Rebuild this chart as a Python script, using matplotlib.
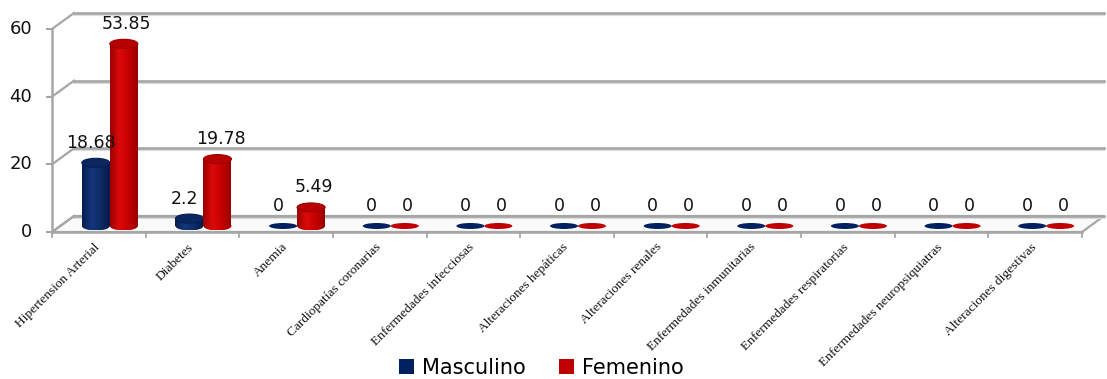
import matplotlib
matplotlib.use("Agg")
import matplotlib.pyplot as plt
import matplotlib.transforms as mtransforms
from matplotlib.patches import Ellipse, Polygon, Rectangle
from matplotlib.colors import LinearSegmentedColormap
import numpy as np

categorias = ["Hipertension Arterial", "Diabetes", "Anemia", "Cardiopatías coronarias",
              "Enfermedades infecciosas", "Alteraciones hepáticas", "Alteraciones renales",
              "Enfermedades inmunitarias", "Enfermedades respiratorias",
              "Enfermedades neuropsiquiatras", "Alteraciones digestivas"]
masculino = [18.68, 2.2, 0, 0, 0, 0, 0, 0, 0, 0, 0]
femenino = [53.85, 19.78, 5.49, 0, 0, 0, 0, 0, 0, 0, 0]
series = ["Masculino", "Femenino"]
yticks = [0, 20, 40, 60]

# cylinder shading: dark edge -> highlight -> dark edge
grad_azul = LinearSegmentedColormap.from_list("azul", ["#071d4f", "#14367a", "#0f2c68", "#061a48"])
grad_rojo = LinearSegmentedColormap.from_list("rojo", ["#9c0000", "#dc0a0a", "#c60000", "#980000"])
tapa = {"azul": "#0b2661", "rojo": "#b80000"}
col_azul = "#002060"
col_rojo = "#c00000"

W, H = 1107, 379
fig = plt.figure(figsize=(W / 100, H / 100), dpi=100)
ax = fig.add_axes([52 / W, 147 / H, 1030 / W, 203 / H])
ax.set_xlim(-0.5, len(categorias) - 0.5)
ax.set_ylim(0, 60)
ax.axis("off")
pix = mtransforms.IdentityTransform()

# depth offsets (pixels) for the back wall and for the bar row
fondo = mtransforms.offset_copy(ax.transData, fig=fig, x=22, y=16, units="dots")
fila = mtransforms.offset_copy(ax.transData, fig=fig, x=11, y=6, units="dots")
sombra = mtransforms.offset_copy(ax.transData, fig=fig, x=22, y=14, units="dots")
etiquetas = [mtransforms.offset_copy(fila, fig=fig, x=-5, y=20, units="dots"),
             mtransforms.offset_copy(fila, fig=fig, x=3, y=20, units="dots")]

x0, x1 = -0.5, len(categorias) - 0.5
gris = "#a6a6a6"

# floor
pts_back = fondo.transform([(x0, 0), (x1, 0)])
pts_front = ax.transData.transform([(x0, 0), (x1, 0)])
ax.add_patch(Polygon(np.vstack([pts_front, pts_back[::-1]]), closed=True, transform=pix,
                     facecolor="#fafafa", edgecolor=gris, lw=1.6, zorder=1, clip_on=False))

# back wall gridlines and left wall diagonals
for yv in yticks:
    ax.plot([x0, x1], [yv, yv], transform=sombra, color="#dcdcdc", lw=1.6, clip_on=False, zorder=1)
    ax.plot([x0, x1], [yv, yv], transform=fondo, color=gris, lw=1.9, clip_on=False, zorder=1.1)
    a = ax.transData.transform((x0, yv))
    b = fondo.transform((x0, yv))
    ax.plot([a[0], b[0]], [a[1], b[1]], transform=pix, color=gris, lw=1.6, clip_on=False, zorder=1.1)

# front axes lines
ax.plot([x0, x0], [0, 60], color=gris, lw=1.8, clip_on=False, zorder=2)
ax.plot([x0, x1], [0, 0], color=gris, lw=1.8, clip_on=False, zorder=2)
px_per_unit = (ax.transData.transform((0, 20))[1] - ax.transData.transform((0, 0))[1]) / 20
px_per_cat = ax.transData.transform((1, 0))[0] - ax.transData.transform((0, 0))[0]
for yv in yticks:
    ax.plot([x0 - 5 / px_per_cat, x0], [yv, yv], color=gris, lw=1.5, clip_on=False, zorder=2)
    ax.text(x0 - 20 / px_per_cat, yv, str(yv), ha="right", va="center", fontsize=13,
            color="#111111", family="DejaVu Sans")
for k in range(len(categorias) + 1):
    ax.plot([x0 + k, x0 + k], [0, -5 / px_per_unit], color=gris, lw=1.3, clip_on=False, zorder=2)

# category labels
for i, nombre in enumerate(categorias):
    ax.text(i - 5 / px_per_cat, -9 / px_per_unit, nombre, rotation=45, rotation_mode="anchor",
            ha="right", va="top", fontsize=9.6, family="Liberation Serif", color="#111111")

# cylinders
ancho = 28 / px_per_cat
elip_h = 9 / px_per_unit
disco_h = 6 / px_per_unit
grad = np.linspace(0, 1, 64).reshape(1, -1)
for i in range(len(categorias)):
    for j, (vals, cmap, clave) in enumerate([(masculino, grad_azul, "azul"), (femenino, grad_rojo, "rojo")]):
        v = vals[i]
        xc = i + (j - 0.5) * ancho
        zo = 3 + i * 0.1 + j * 0.01
        if v == 0:
            ax.add_patch(Ellipse((xc, 0), ancho, disco_h, transform=fila,
                                 facecolor=col_azul if j == 0 else col_rojo, edgecolor="none",
                                 zorder=zo, clip_on=False))
        else:
            # body silhouette: bottom ellipse + rectangle
            base = Ellipse((xc, 0), ancho, elip_h, transform=fila, facecolor="none",
                           edgecolor="none", clip_on=False)
            cuerpo = Rectangle((xc - ancho / 2, 0), ancho, v, transform=fila,
                               facecolor="none", edgecolor="none", clip_on=False)
            ax.add_patch(base)
            ax.add_patch(cuerpo)
            for forma, ext in [(cuerpo, (xc - ancho / 2, xc + ancho / 2, 0, v)),
                               (base, (xc - ancho / 2, xc + ancho / 2, -elip_h / 2, elip_h / 2))]:
                im = ax.imshow(grad, cmap=cmap, extent=ext, aspect="auto",
                               interpolation="bilinear", zorder=zo)
                im.set_transform(fila)
                im.set_clip_path(forma)
            ax.add_patch(Ellipse((xc, v), ancho, elip_h, transform=fila, facecolor=tapa[clave],
                                 edgecolor=cmap(0.0), lw=0.8, zorder=zo + 0.005, clip_on=False))
        ax.text(xc, v, f"{v:g}", transform=etiquetas[j], ha="center", va="center", fontsize=12.5,
                color="#111111", family="DejaVu Sans", zorder=10)

ax.set_xlim(-0.5, len(categorias) - 0.5)
ax.set_ylim(0, 60)

handles = [Rectangle((0, 0), 1, 1, facecolor=col_azul), Rectangle((0, 0), 1, 1, facecolor=col_rojo)]
fig.legend(handles, series, loc="center", bbox_to_anchor=(541 / W, 11 / H), ncol=2, frameon=False,
           handlelength=0.75, handleheight=0.75, handletextpad=0.35, columnspacing=1.6,
           prop={"family": "DejaVu Sans", "size": 15})

fig.savefig("out.png", dpi=100)
